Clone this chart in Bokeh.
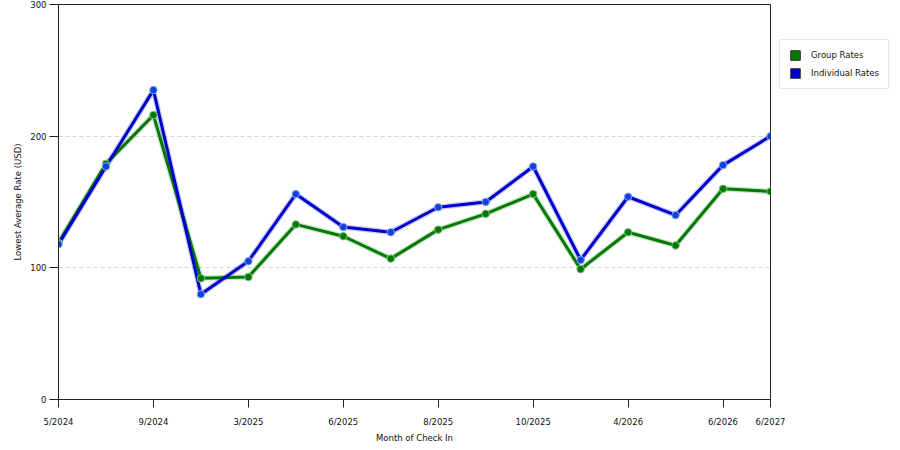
import numpy as np
from bokeh.plotting import figure
from bokeh.models import (ColumnDataSource, FixedTicker, Range1d, Legend,
                          LegendItem)
from bokeh.embed import file_html
from bokeh.resources import INLINE

# data (16 evenly spaced months)
month_index = list(range(16))
group_rates = [119, 179, 216, 92, 93, 133, 124, 107, 129, 141, 156, 99, 127, 117, 160, 158]
individual_rates = [118, 177, 235, 80, 105, 156, 131, 127, 146, 150, 177, 106, 154, 140, 178, 200]
tick_pos = [0, 2, 4, 6, 8, 10, 12, 14, 15]
tick_labels = ["5/2024", "9/2024", "3/2025", "6/2025", "8/2025", "10/2025",
               "4/2026", "6/2026", "6/2027"]

FONT = "DejaVu Sans"
GREEN = "#007a00"
BLUE = "#0000cc"

src = ColumnDataSource(dict(x=month_index, g=group_rates, i=individual_rates))

p = figure(width=884, height=434, output_backend="svg", toolbar_location=None,
           x_range=Range1d(0, 15), y_range=Range1d(0, 300),
           frame_width=712, frame_height=395,
           min_border_left=58, min_border_top=4, min_border_right=0,
           min_border_bottom=0)
p.background_fill_color = "white"
p.border_fill_color = "white"
p.outline_line_color = "#222222"

# lines with soft halo
p.line("x", "g", source=src, color=GREEN, line_width=5.5, alpha=0.2)
p.line("x", "i", source=src, color=BLUE, line_width=5.5, alpha=0.2)
p.line("x", "g", source=src, color=GREEN, line_width=3)
p.line("x", "i", source=src, color=BLUE, line_width=3)
p.scatter("x", "g", source=src, size=7.5, fill_color=GREEN, line_color="#7fbf7f", line_width=1)
p.scatter("x", "i", source=src, size=7.5, fill_color="#1040e0", line_color="#8fa8f0", line_width=1)

# axes
p.xaxis.ticker = FixedTicker(ticks=tick_pos)
p.xaxis.major_label_overrides = {pos: lab for pos, lab in zip(tick_pos, tick_labels)}
p.yaxis.ticker = FixedTicker(ticks=[0, 100, 200, 300])
for ax in (p.xaxis[0], p.yaxis[0]):
    ax.axis_line_color = "#222222"
    ax.major_tick_line_color = "#222222"
    ax.major_tick_in = 0
    ax.minor_tick_line_color = None
    ax.major_label_text_font = FONT
    ax.major_label_text_font_size = "8.5px"
    ax.major_label_text_color = "#111111"
    ax.axis_label_text_font = FONT
    ax.axis_label_text_font_size = "8.5px"
    ax.axis_label_text_font_style = "normal"
    ax.axis_label_text_color = "#111111"
p.xaxis.axis_label = "Month of Check In"
p.yaxis.axis_label = "Lowest Average Rate (USD)"
p.xaxis.major_tick_out = 8
p.xaxis.major_label_standoff = 9
p.xaxis.axis_label_standoff = 3
p.yaxis.major_tick_out = 9
p.yaxis.major_label_standoff = 3
p.yaxis.axis_label_standoff = 4

p.xgrid.grid_line_color = None
p.ygrid.grid_line_color = "#d4d4d4"
p.ygrid.grid_line_dash = "4 3"

# legend with square swatches (dummy area renderers that draw nothing in the plot)
dummy = ColumnDataSource(dict(l=[np.nan], r=[np.nan], b=[np.nan], t=[np.nan]))
gs = p.quad(left="l", right="r", bottom="b", top="t", source=dummy,
            fill_color=GREEN, line_color="#333333")
bs = p.quad(left="l", right="r", bottom="b", top="t", source=dummy,
            fill_color=BLUE, line_color="#333333")
legend = Legend(items=[LegendItem(label="Group Rates", renderers=[gs]),
                       LegendItem(label="Individual Rates", renderers=[bs])],
                location=(9, 310), margin=0, padding=9, spacing=6,
                glyph_width=12, glyph_height=12, label_standoff=10,
                label_text_font=FONT, label_text_font_size="8.5px",
                label_text_color="#111111",
                border_line_color="#d0d0d0", background_fill_color="white")
p.add_layout(legend, "right")

open("out.html", "w").write(file_html(p, INLINE))
